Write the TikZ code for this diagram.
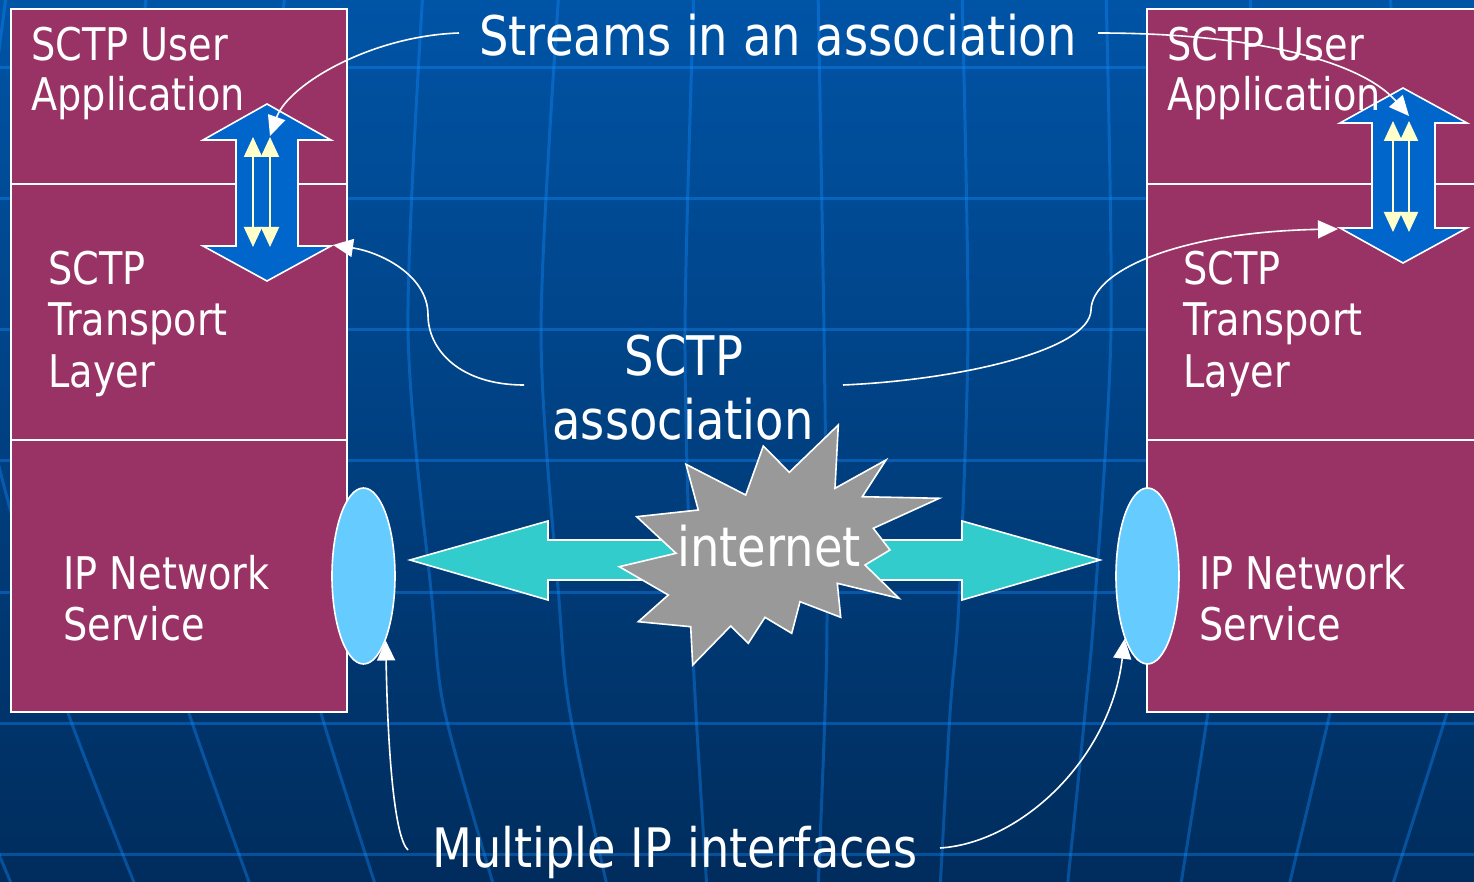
\documentclass[tikz,border=0pt]{standalone}
\usepackage{fontspec}
\setmainfont{DejaVu Sans}[FakeStretch=0.85]
\usetikzlibrary{arrows.meta,shapes.geometric}
\definecolor{bgtop}{RGB}{0,84,166}
\definecolor{bgbot}{RGB}{0,44,92}
\definecolor{gridc}{RGB}{20,140,255}
\definecolor{layerfill}{RGB}{153,51,102}
\definecolor{arrowblue}{RGB}{0,102,204}
\definecolor{streamy}{RGB}{255,255,204}
\definecolor{ifcolor}{RGB}{102,204,255}
\definecolor{tealarrow}{RGB}{51,204,204}
\definecolor{stargray}{RGB}{153,153,153}
\begin{document}
\begin{tikzpicture}[x=0.5pt,y=-0.5pt,
  every node/.style={inner sep=0pt,text=white},
  lbl/.style={anchor=base west,font=\fontsize{22.5}{26}\selectfont},
  big/.style={anchor=base,font=\fontsize{27.3}{32}\selectfont},
  layer/.style={draw=white,line width=0.6pt,fill=layerfill},
  gridline/.style={line width=1.5pt,draw=gridc,draw opacity=0.38},
  bigarrow/.style={fill=arrowblue,draw=white,line width=0.8pt,line join=miter},
  tealshape/.style={fill=tealarrow,draw=white,line width=0.8pt,line join=miter},
  stream/.style={draw=streamy,line width=1pt,{Triangle[length=10pt,width=9pt]}-{Triangle[length=10pt,width=9pt]}},
  iface/.style={ellipse,draw=white,fill=ifcolor,line width=0.8pt,minimum width=31.5pt,minimum height=88pt},
  starshape/.style={fill=stargray,draw=white,line width=0.8pt,line join=miter},
  conn/.style={draw=white,line width=0.8pt,-{Triangle[length=10pt,width=9pt]}}
]
\useasboundingbox (0,0) rectangle (1474,882);
\clip (0,0) rectangle (1474,882);
% background
\shade[top color=bgtop,bottom color=bgbot] (-5,-5) rectangle (1480,890);
\foreach \y in {68,199,330,461,592,723,854}
  \draw[gridline] (-10,\y) -- (1484,\y);
\draw[gridline] plot[smooth] coordinates {(-140,-10) (-170,330) (-100,600) (-60,713) (14,890)};
\draw[gridline] plot[smooth] coordinates {(7,-10) (-25,330) (35,600) (68,713) (137,890)};
\draw[gridline] plot[smooth] coordinates {(147,-10) (120,330) (160,600) (189,713) (252,890)};
\draw[gridline] plot[smooth] coordinates {(285,-10) (265,330) (295,600) (321,713) (377,890)};
\draw[gridline] plot[smooth] coordinates {(423,-10) (408,330) (432,600) (445,713) (495,890)};
\draw[gridline] plot[smooth] coordinates {(559,-10) (541,330) (559,600) (570,713) (608,890)};
\draw[gridline] plot[smooth] coordinates {(694,-10) (685,330) (691,600) (696,713) (707,890)};
\draw[gridline] plot[smooth] coordinates {(818,-10) (824,330) (827,600) (825,713) (818,890)};
\draw[gridline] plot[smooth] coordinates {(962,-10) (968,330) (959,600) (950,713) (940,890)};
\draw[gridline] plot[smooth] coordinates {(1106,-10) (1111,330) (1095,600) (1085,713) (1067,890)};
\draw[gridline] plot[smooth] coordinates {(1250,-10) (1255,330) (1225,600) (1208,713) (1180,890)};
\draw[gridline] plot[smooth] coordinates {(1390,-10) (1400,330) (1355,600) (1330,713) (1288,890)};
\draw[gridline] plot[smooth] coordinates {(1530,-10) (1545,330) (1480,600) (1447,713) (1391,890)};
% layer boxes
\draw[layer] (11,9) rectangle (347,184);
\draw[layer] (11,184) rectangle (347,440);
\draw[layer] (11,440) rectangle (347,712);
\draw[layer] (1147,9) rectangle (1490,184);
\draw[layer] (1147,184) rectangle (1490,440);
\draw[layer] (1147,440) rectangle (1490,712);
% big double arrows (streams)
\draw[bigarrow] (267,104) -- (331,140) -- (298,140) -- (298,246) -- (331,246) -- (267,281)
  -- (203,246) -- (236,246) -- (236,140) -- (203,140) -- cycle;
\draw[bigarrow] (1403,88) -- (1467,123) -- (1435,123) -- (1435,228) -- (1467,228) -- (1403,263)
  -- (1340,228) -- (1372,228) -- (1372,123) -- (1340,123) -- cycle;
\draw[stream] (253,137) -- (253,247);
\draw[stream] (270,137) -- (270,247);
\draw[stream] (1393,121) -- (1393,232);
\draw[stream] (1409,121) -- (1409,232);
\coordinate (LAin) at (270,136);
\coordinate (LAcorner) at (333,245);
\coordinate (RAin) at (1409,116);
\coordinate (RAcorner) at (1338,229);
% association arrow
\draw[tealshape] (410,560) -- (548,521) -- (548,540) -- (962,540) -- (962,521) -- (1100,560)
  -- (962,600) -- (962,580) -- (548,580) -- (548,600) -- cycle;
% interfaces
\node[iface] (lif) at (363.5,576) {};
\node[iface] (rif) at (1147.5,576) {};
% internet cloud
\draw[starshape] (838.3,425) -- (835,488.3) -- (886,460) -- (862.3,496.7) -- (939.3,498.3)
  -- (873.3,528.3) -- (890,550) -- (865,565) -- (899,598.3) -- (837.3,583.3) -- (840.7,617.3)
  -- (800,601.7) -- (791.7,633.3) -- (765,617.3) -- (748.3,643.3) -- (730.7,626) -- (692.7,665)
  -- (690.7,626.7) -- (638.3,621.7) -- (668.3,595) -- (619.3,566.7) -- (676,553.3)
  -- (636.7,516.7) -- (698.3,510) -- (686,464.3) -- (745.7,495) -- (763.3,446) -- (789.3,472.3) -- cycle;
\node[big] (inet) at (769,567) {internet};
% layer texts
\node[lbl] (lu1) at (31,61) {SCTP User};
\node[lbl] (lu2) at (31,111) {Application};
\node[lbl] (lt1) at (48,285) {SCTP};
\node[lbl] (lt2) at (48,336) {Transport};
\node[lbl] (lt3) at (48,387) {Layer};
\node[lbl] (ln1) at (63,589) {IP Network};
\node[lbl] (ln2) at (63,640) {Service};
\node[lbl] (ru1) at (1167,61) {SCTP User};
\node[lbl] (ru2) at (1167,111) {Application};
\node[lbl] (rt1) at (1183,285) {SCTP};
\node[lbl] (rt2) at (1183,336) {Transport};
\node[lbl] (rt3) at (1183,387) {Layer};
\node[lbl] (rn1) at (1199,589) {IP Network};
\node[lbl] (rn2) at (1199,640) {Service};
% titles
\node[big] (streams) at (778,56) {Streams in an association};
\node[big] (assoc1) at (684,376) {SCTP};
\node[big] (assoc2) at (683,439) {association};
\node[big,font=\fontsize{27.2}{32}\selectfont] (multi) at (675,867) {Multiple IP interfaces};
% connector start points
\coordinate (sL) at (459,33);
\coordinate (sR) at (1098,33);
\coordinate (aL) at (524,385);
\coordinate (aR) at (843,385);
\coordinate (mL) at (408,850);
\coordinate (mR) at (940,848);
% connectors
\draw[conn] (sL) .. controls (370,36) and (288,85) .. (LAin);
\draw[conn] (sR) .. controls (1250,33) and (1360,60) .. (RAin);
\draw[conn] (aL) .. controls (460,385) and (428,350) .. (428,315) .. controls (428,275) and (380,252) .. (LAcorner);
\draw[conn] (aR) .. controls (960,380) and (1090,350) .. (1091,310) .. controls (1092,270) and (1180,232) .. (RAcorner);
\draw[conn] (mL) .. controls (395,838) and (388,760) .. (lif.-71);
\draw[conn] (mR) .. controls (1020,843) and (1110,760) .. (rif.-110);
\end{tikzpicture}
\end{document}
